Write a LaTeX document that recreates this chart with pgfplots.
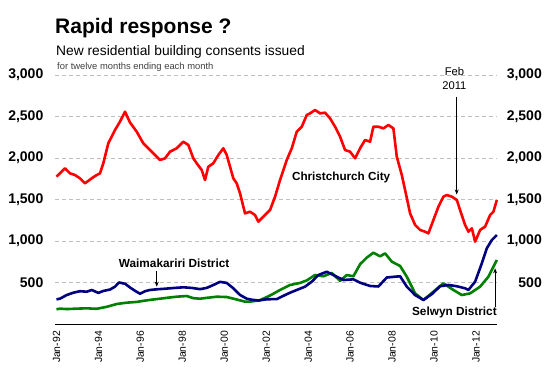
\documentclass[border=0pt]{standalone}
\usepackage{pgfplots}
\pgfplotsset{compat=1.18}
\usepackage{fontspec}
\setmainfont{Liberation Sans}
\usetikzlibrary{arrows.meta}
\definecolor{cred}{RGB}{255,0,0}
\definecolor{cblue}{RGB}{0,0,128}
\definecolor{cgreen}{RGB}{0,128,0}
\definecolor{cgrid}{RGB}{192,192,192}
\begin{document}
\begin{tikzpicture}
\useasboundingbox (0,0) rectangle (550pt,375pt);
\node[anchor=base west, inner sep=0pt] at (55pt,341pt) {\fontsize{21}{24}\selectfont\bfseries Rapid response ?};
\node[anchor=base west, inner sep=0pt] at (56pt,319pt) {\fontsize{13.8}{16}\selectfont New residential building consents issued};
\node[anchor=base west, inner sep=0pt, text=black!75] at (57pt,305pt) {\fontsize{9.4}{11}\selectfont for twelve months ending each month};
\begin{axis}[
  at={(55pt,51pt)}, anchor=south west, scale only axis,
  width=442pt, height=249pt,
  xmin=1991.93, xmax=2013.0, ymin=0, ymax=3000,
  axis x line*=bottom, axis y line*=left,
  y axis line style={draw=none},
  x axis line style={black, line width=0.8pt, -},
  major tick length=0pt,
  xtick={1992,1994,1996,1998,2000,2002,2004,2006,2008,2010,2012},
  xticklabels={Jan-92,Jan-94,Jan-96,Jan-98,Jan-00,Jan-02,Jan-04,Jan-06,Jan-08,Jan-10,Jan-12},
  xticklabel style={yshift=-7pt, rotate=90, anchor=east, inner sep=0pt, font=\fontsize{10.4}{12}\selectfont},
  ytick={500,1000,1500,2000,2500,3000},
  yticklabels={500,{1,000},{1,500},{2,000},{2,500},{3,000}},
  yticklabel style={anchor=east, inner sep=0pt, xshift=-11.5pt, font=\fontsize{14}{16}\selectfont\bfseries},
  ymajorgrids, grid style={cgrid, dash pattern=on 4pt off 3pt, line width=0.8pt},
  clip=false,
]
\addplot[cred, line width=2.6pt, line join=round] coordinates {
(1992.000,1775)(1992.405,1876)(1992.644,1815)(1992.882,1795)(1993.121,1755)(1993.359,1695)
(1993.679,1755)(1993.917,1795)(1994.074,1815)(1994.232,1936)(1994.470,2177)(1994.790,2337)
(1995.028,2438)(1995.267,2558)(1995.505,2428)(1995.825,2317)(1996.139,2177)(1996.378,2117)
(1996.540,2076)(1996.778,2016)(1996.936,1976)(1997.174,1996)(1997.413,2076)(1997.732,2117)
(1998.047,2196)(1998.285,2157)(1998.524,1996)(1998.686,1936)(1998.924,1855)(1999.082,1735)
(1999.239,1895)(1999.477,1936)(1999.716,2036)(1999.954,2117)(2000.116,2036)(2000.274,1895)
(2000.431,1755)(2000.593,1695)(2000.751,1574)(2000.908,1413)(2000.989,1333)(2001.228,1353)
(2001.466,1313)(2001.623,1233)(2001.862,1293)(2002.181,1373)(2002.420,1534)(2002.658,1735)
(2002.978,1976)(2003.216,2117)(2003.455,2317)(2003.693,2377)(2003.931,2518)(2004.089,2538)
(2004.327,2578)(2004.566,2538)(2004.804,2546)(2005.042,2478)(2005.281,2377)(2005.519,2257)
(2005.758,2096)(2005.996,2076)(2006.235,1996)(2006.473,2117)(2006.711,2217)(2006.950,2196)
(2007.107,2377)(2007.346,2377)(2007.584,2357)(2007.823,2398)(2008.061,2357)(2008.223,2016)
(2008.462,1795)(2008.619,1614)(2008.857,1333)(2009.096,1193)(2009.334,1133)(2009.573,1112)
(2009.730,1092)(2009.969,1253)(2010.207,1413)(2010.445,1534)(2010.608,1554)(2010.846,1534)
(2011.084,1494)(2011.242,1373)(2011.480,1193)(2011.638,1112)(2011.800,1153)(2011.957,992)
(2012.195,1133)(2012.434,1173)(2012.672,1313)(2012.830,1353)(2012.992,1494)
};
\addplot[cgreen, line width=2.6pt, line join=round] coordinates {
(1992.000,177)(1992.167,185)(1992.486,180)(1992.963,185)(1993.440,189)(1993.917,183)
(1994.394,207)(1994.871,241)(1995.348,257)(1995.825,266)(1996.301,285)(1996.778,300)
(1997.255,315)(1997.732,329)(1998.209,337)(1998.524,311)(1998.843,305)(1999.163,315)
(1999.640,329)(2000.116,325)(2000.593,295)(2000.989,269)(2001.228,269)(2001.704,287)
(2002.181,343)(2002.658,410)(2003.135,470)(2003.612,495)(2003.931,525)(2004.327,590)
(2004.723,575)(2005.124,615)(2005.519,520)(2005.839,590)(2006.154,575)(2006.473,720)
(2006.793,800)(2007.107,859)(2007.427,815)(2007.665,851)(2007.985,751)(2008.380,699)
(2008.700,570)(2009.096,369)(2009.492,289)(2009.969,389)(2010.445,490)(2010.922,410)
(2011.323,349)(2011.719,369)(2012.195,450)(2012.591,570)(2012.992,771)
};
\addplot[cblue, line width=2.6pt, line join=round] coordinates {
(1992.000,297)(1992.167,305)(1992.486,349)(1992.801,377)(1993.121,395)(1993.440,389)
(1993.679,410)(1993.993,375)(1994.232,398)(1994.551,415)(1994.790,450)(1994.980,500)
(1995.267,485)(1995.505,440)(1995.743,400)(1995.982,365)(1996.220,395)(1996.459,410)
(1996.778,418)(1997.174,425)(1997.413,430)(1997.651,435)(1998.047,442)(1998.447,435)
(1998.843,420)(1999.163,435)(1999.477,470)(1999.797,508)(2000.116,495)(2000.431,430)
(2000.751,350)(2001.070,305)(2001.323,292)(2001.623,283)(2002.024,298)(2002.501,300)
(2002.897,349)(2003.135,377)(2003.455,410)(2003.850,450)(2004.170,510)(2004.484,590)
(2004.885,630)(2005.200,590)(2005.677,530)(2006.154,538)(2006.473,498)(2006.950,458)
(2007.346,452)(2007.746,560)(2008.142,570)(2008.380,575)(2008.700,450)(2009.096,349)
(2009.492,289)(2009.892,360)(2010.288,455)(2010.684,470)(2011.084,455)(2011.480,430)
(2011.638,410)(2011.957,510)(2012.277,731)(2012.515,912)(2012.754,1012)(2012.992,1072)
};
\node[font=\fontsize{11.7}{13}\selectfont\bfseries] at (axis cs:2005.57,1771) {Christchurch City};
\node[font=\fontsize{11.8}{13}\selectfont\bfseries] at (axis cs:1997.61,735) {Waimakariri District};
\node[font=\fontsize{11.8}{13}\selectfont\bfseries] at (axis cs:2010.97,145) {Selwyn District};
\node[font=\fontsize{11.2}{13.5}\selectfont, align=center] at (axis cs:2010.97,2958) {Feb\\2011};
\draw[-{Stealth[length=5pt,width=4pt]}, line width=0.7pt] (axis cs:2011.08,2739) -- (axis cs:2011.08,1560);
\draw[-{Stealth[length=5pt,width=4pt]}, line width=0.7pt] (axis cs:1996.78,639) -- (axis cs:1996.78,450);
\draw[-{Stealth[length=5pt,width=4pt]}, line width=0.7pt] (axis cs:2012.91,208) -- (axis cs:2012.91,670);
\end{axis}
\begin{axis}[
  at={(55pt,51pt)}, anchor=south west, scale only axis,
  width=442pt, height=249pt,
  xmin=1991.93, xmax=2013.0, ymin=0, ymax=3000,
  hide x axis, axis y line*=right,
  y axis line style={draw=none},
  major tick length=0pt,
  ytick={500,1000,1500,2000,2500,3000},
  yticklabels={500,{1,000},{1,500},{2,000},{2,500},{3,000}},
  yticklabel style={anchor=east, inner sep=0pt, xshift=45pt, font=\fontsize{14}{16}\selectfont\bfseries},
]
\addplot[draw=none] coordinates {(1992,0)};
\end{axis}
\end{tikzpicture}
\end{document}
